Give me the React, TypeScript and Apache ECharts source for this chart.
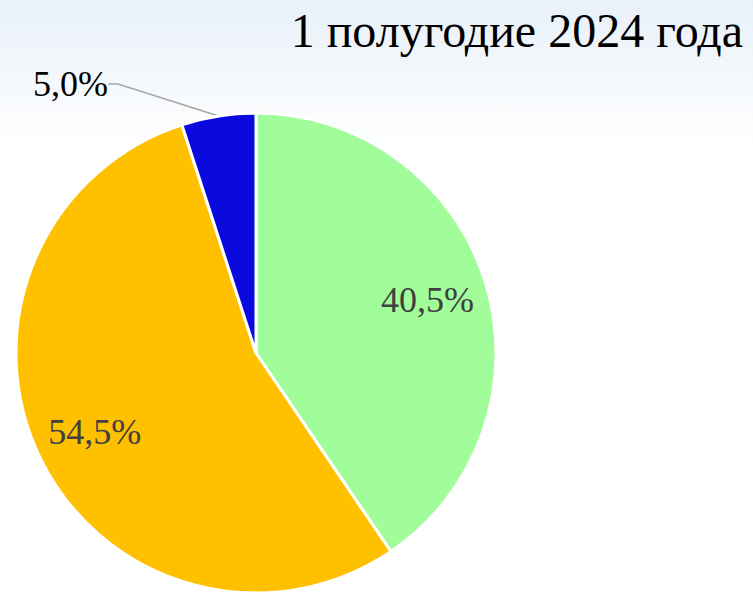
import React, { useEffect, useRef } from "react";
import * as echarts from "echarts";

const title = "1 полугодие 2024 года";
const categories = ["Категория 1", "Категория 2", "Категория 3"];
const values = [40.5, 54.5, 5.0];
const colors = ["#A0FD9A", "#FFC000", "#0A0ADF"];

const fmt = (v: number) => v.toFixed(1).replace(".", ",") + "%";
const SERIF = "Liberation Serif, serif";

export default function App() {
  const ref = useRef<HTMLDivElement>(null);
  useEffect(() => {
    document.body.style.margin = "0";
    const chart = echarts.init(ref.current!, null, { renderer: "svg" });
    const mainData = values.map((v, i) => ({
      name: categories[i],
      value: v,
      itemStyle: { color: colors[i] },
      label: { show: v < 10 },
      labelLine: { show: v < 10 },
    }));
    const overlayData = values.map((v, i) => ({
      name: categories[i],
      value: v,
      label: { show: v >= 10 },
    }));
    chart.setOption({
      animation: false,
      textStyle: { fontFamily: SERIF },
      backgroundColor: new echarts.graphic.LinearGradient(0, 0, 0, 1, [
        { offset: 0, color: "#e8f0f8" },
        { offset: 0.25, color: "#ffffff" },
        { offset: 1, color: "#ffffff" },
      ]),
      title: {
        text: title,
        right: 5,
        top: 1,
        textStyle: {
          fontFamily: SERIF,
          fontSize: 48,
          fontWeight: "normal",
          color: "#000",
        },
      },
      series: [
        {
          type: "pie",
          center: [256, 353],
          radius: [0, 240],
          startAngle: 90,
          clockwise: true,
          silent: true,
          data: mainData,
          itemStyle: { borderColor: "#ffffff", borderWidth: 3 },
          label: {
            position: "outside",
            formatter: (p: any) => fmt(p.value),
            fontFamily: SERIF,
            fontSize: 36,
            color: "#000",
          },
          labelLine: {
            lineStyle: { color: "#a6a6a6", width: 1.5 },
            length: 20,
            length2: 10,
          },
          labelLayout: (p: any) =>
            p.dataIndex === 2 ? { x: 33, y: 66, align: "left", verticalAlign: "top" } : {},
        },
        {
          type: "pie",
          center: [256, 353],
          radius: [113, 240],
          startAngle: 90,
          clockwise: true,
          silent: true,
          data: overlayData,
          itemStyle: { color: "rgba(0,0,0,0)" },
          label: {
            position: "inside",
            formatter: (p: any) => fmt(p.value),
            fontFamily: SERIF,
            fontSize: 36,
            color: "#404040",
          },
          labelLine: { show: false },
        },
      ],
    });
    return () => chart.dispose();
  }, []);
  return <div ref={ref} style={{ width: 753, height: 593 }} />;
}
